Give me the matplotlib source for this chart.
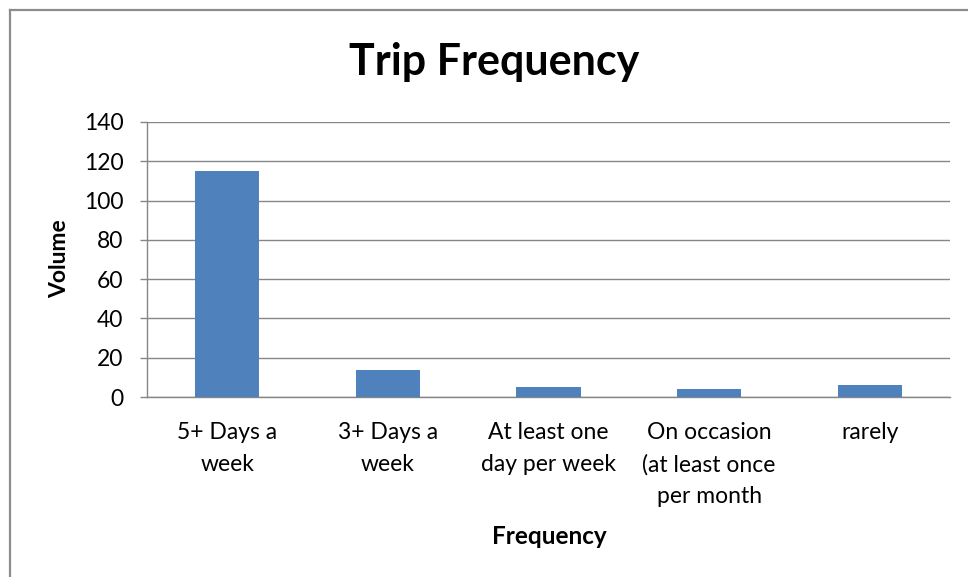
import matplotlib
matplotlib.use("Agg")
import matplotlib.pyplot as plt
from matplotlib.lines import Line2D

categories = ["5+ Days a\nweek", "3+ Days a\nweek", "At least one\nday per week",
              "On occasion\n(at least once\nper month", "rarely"]
values = [115, 14, 5, 4, 6]
yticks = [0, 20, 40, 60, 80, 100, 120, 140]

plt.rcParams['font.family'] = ['Lato', 'DejaVu Sans']

W, H = 968, 577
fig = plt.figure(figsize=(W / 100, H / 100), dpi=100)
fig.patch.set_facecolor('white')

ax = fig.add_axes([147 / W, 1 - 397 / H, (950 - 147) / W, (397 - 122) / H])
x = list(range(len(categories)))
ax.bar(x, values, width=0.4, color='#4F81BD', zorder=3)
ax.set_xlim(-0.5, len(categories) - 0.5)
ax.set_ylim(0, 140)
ax.set_yticks(yticks)
ax.set_yticklabels([str(t) for t in yticks], fontsize=16.5)
ax.set_xticks(x)
ax.set_xticklabels(categories, fontsize=16.5, linespacing=1.62, va='top')
ax.tick_params(axis='x', length=0, pad=18)
ax.tick_params(axis='y', length=5, width=1, color='#868686', pad=12)
ax.grid(axis='y', color='#868686', linewidth=1, zorder=0)
for s in ['top', 'right']:
    ax.spines[s].set_visible(False)
for s in ['left', 'bottom']:
    ax.spines[s].set_color('#868686')
    ax.spines[s].set_linewidth(1)

fig.text(494 / W, 1 - 62 / H, "Trip Frequency", fontsize=31, fontweight='bold',
         ha='center', va='center')
fig.text(60 / W, 1 - 259 / H, "Volume", fontsize=16.5, fontweight='bold',
         rotation=90, ha='center', va='center')
fig.text(549 / W, 1 - 537 / H, "Frequency", fontsize=17.5, fontweight='bold',
         ha='center', va='center')

# chart border (left and top visible)
fig.add_artist(Line2D([9.5 / W, 9.5 / W], [0, 1 - 9.5 / H], transform=fig.transFigure,
                      color='#8c8c8c', linewidth=1.6))
fig.add_artist(Line2D([9.5 / W, 1], [1 - 9.5 / H, 1 - 9.5 / H], transform=fig.transFigure,
                      color='#8c8c8c', linewidth=1.6))

fig.savefig("out.png", dpi=100, facecolor='white')
